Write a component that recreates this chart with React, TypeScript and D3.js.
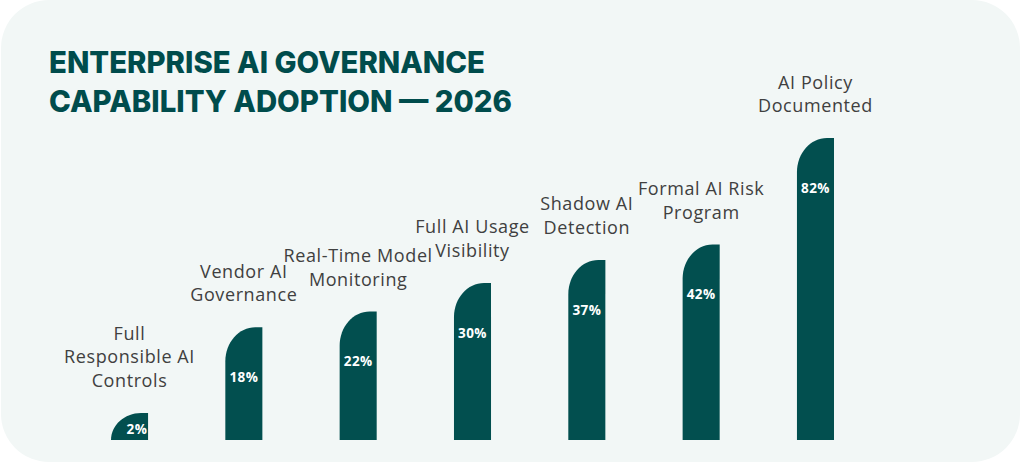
import React from "react";
import * as d3 from "d3";

const categories = [
  "Full Responsible AI Controls",
  "Vendor AI Governance",
  "Real-Time Model Monitoring",
  "Full AI Usage Visibility",
  "Shadow AI Detection",
  "Formal AI Risk Program",
  "AI Policy Documented",
];
const labelLines = [
  ["Full", "Responsible AI", "Controls"],
  ["Vendor AI", "Governance"],
  ["Real-Time Model", "Monitoring"],
  ["Full AI Usage", "Visibility"],
  ["Shadow AI", "Detection"],
  ["Formal AI Risk", "Program"],
  ["AI Policy", "Documented"],
];
const adoption = [2, 18, 22, 30, 37, 42, 82];
const titleLines = ["ENTERPRISE AI GOVERNANCE", "CAPABILITY ADOPTION \u2014 2026"];

const width = 1024;
const height = 463;
const baseline = 440;
const panelColor = "#f2f7f6";
const barColor = "#024f4f";
const titleColor = "#004c4c";
const labelColor = "#404040";
const font = "'Open Sans', 'Noto Sans', sans-serif";
const titleFont = "Inter, 'Open Sans', sans-serif";

export default function App() {
  const x = d3.scaleBand<string>()
    .domain(categories)
    .range([111, 834])
    .paddingInner(0.676)
    .paddingOuter(0);

  // compressed scale so small shares stay readable next to the large one
  const h = d3.scalePow().exponent(0.65).domain([0, 82]).range([0, 302]);

  const barPath = (x0: number, w: number, bh: number) => {
    const top = baseline - bh;
    const rx = Math.min(30, w);
    const ry = Math.min(34, bh);
    const p = d3.path();
    p.moveTo(x0, baseline);
    p.lineTo(x0, top + ry);
    p.bezierCurveTo(x0, top + ry * 0.45, x0 + rx * 0.45, top, x0 + rx, top);
    p.lineTo(x0 + w, top);
    p.lineTo(x0 + w, baseline);
    p.closePath();
    return p.toString();
  };

  const w = x.bandwidth();

  return (
    <svg
      width={width}
      height={height}
      style={{ position: "absolute", left: 0, top: 0, display: "block" }}
    >
      <rect x={0} y={0} width={width} height={height} fill="#ffffff" />
      <rect x={1} y={0} width={1019} height={462} rx={48} ry={48} fill={panelColor} />

      {titleLines.map((t, i) => (
        <text
          key={t}
          x={49}
          y={73 + i * 39}
          fontFamily={titleFont}
          fontWeight={800}
          fontSize={30}
          fill={titleColor}
          textLength={i === 0 ? 436 : 463}
          lengthAdjust="spacingAndGlyphs"
        >
          {t}
        </text>
      ))}

      {categories.map((c, i) => {
        const x0 = x(c) as number;
        const bh = h(adoption[i]);
        const top = baseline - bh;
        const cx = x0 + w / 2;
        const lines = labelLines[i];
        const valueY = top + Math.min(50, bh * 0.6);
        const valueX = bh < 40 ? x0 + w * 0.7 : cx;
        return (
          <g key={c}>
            <path d={barPath(x0, w, bh)} fill={barColor} />
            <text
              x={valueX}
              y={valueY}
              dy="0.35em"
              textAnchor="middle"
              fontFamily={font}
              fontWeight={700}
              fontSize={13.5}
              letterSpacing={0.4}
              fill="#ffffff"
            >
              {adoption[i]}%
            </text>
            {lines.map((l, j) => (
              <text
                key={l}
                x={cx}
                y={top - 26 - (lines.length - 1 - j) * 23.5}
                textAnchor="middle"
                fontFamily={font}
                fontSize={18}
                letterSpacing={0.6}
                fill={labelColor}
              >
                {l}
              </text>
            ))}
          </g>
        );
      })}
    </svg>
  );
}
